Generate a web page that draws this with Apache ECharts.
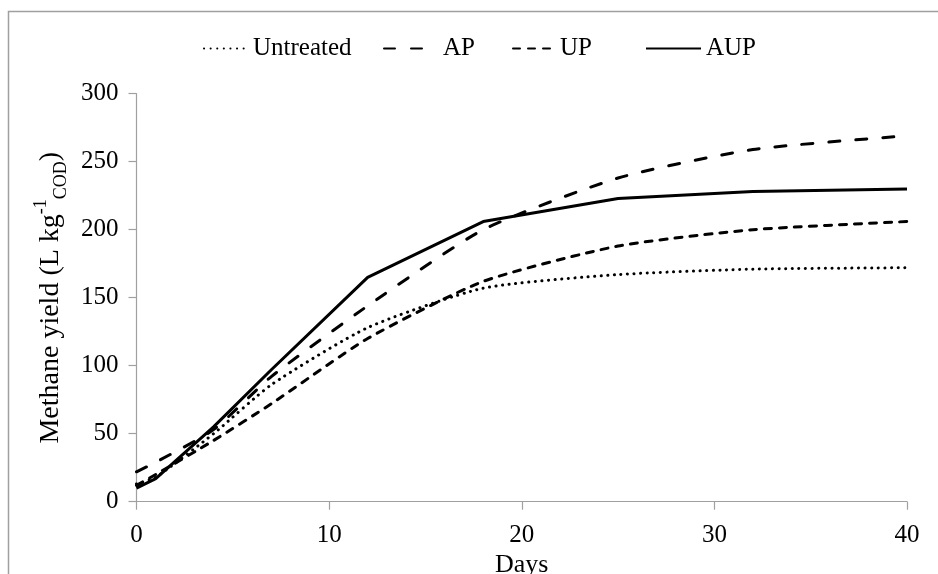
<!DOCTYPE html>
<html>
<head>
<meta charset="utf-8">
<script src="https://cdn.jsdelivr.net/npm/echarts@6/dist/echarts.min.js"></script>
<style>
html,body{margin:0;padding:0;background:#fff;}
#chart{width:938px;height:574px;}
</style>
</head>
<body>
<div id="chart"></div>
<script>
var days = [0, 1, 4, 7, 12, 18, 25, 32, 40];
var untreated = [13, 18, 50, 86, 128, 157, 167, 171, 172];
var ap = [22, 29, 53, 92, 144, 200, 238, 259, 269];
var up = [12, 20, 45, 72, 120, 162, 188, 200, 206];
var aup = [10, 17, 55, 97, 165, 206, 223, 228, 230];
var seriesNames = ['Untreated', 'AP', 'UP', 'AUP'];
var xTicks = [0, 10, 20, 30, 40];
var yTicks = [0, 50, 100, 150, 200, 250, 300];

function pairs(vals) {
  return days.map(function (d, i) { return [d, vals[i]]; });
}

var FONT = '"Liberation Serif", "Times New Roman", serif';
var chart = echarts.init(document.getElementById('chart'), null, {renderer: 'canvas'});

function lineSeries(name, vals, type, cap, smooth) {
  return {
    name: name,
    type: 'line',
    data: pairs(vals),
    symbol: 'none',
    smooth: smooth,
    lineStyle: {color: '#000', width: 3, type: type, cap: cap || 'butt'},
    itemStyle: {color: '#000'}
  };
}

var legendLefts = [203, 383, 512, 645];
var legendWidths = [44, 54, 42, 55];
var legends = seriesNames.map(function (n, i) {
  return {
    data: [n],
    top: 36,
    left: legendLefts[i],
    padding: 0,
    itemWidth: legendWidths[i],
    itemHeight: 14,
    itemGap: 0,
    itemStyle: {opacity: 0},
    textStyle: {fontFamily: FONT, fontSize: 25, color: '#000'}
  };
});

var option = {
  animation: false,
  backgroundColor: '#fff',
  graphic: [{
    type: 'rect',
    shape: {x: 8.5, y: 11.5, width: 960, height: 600},
    style: {fill: 'none', stroke: '#a0a0a0', lineWidth: 1.5},
    silent: true
  }],
  legend: legends,
  grid: {left: 136.5, right: 31, top: 93.7, bottom: 72.3, containLabel: false, outerBoundsMode: 'none'},
  xAxis: {
    type: 'value',
    min: 0, max: 40, interval: 10,
    name: 'Days',
    nameLocation: 'middle',
    nameGap: 44,
    nameTextStyle: {fontFamily: FONT, fontSize: 26, color: '#000'},
    axisLine: {lineStyle: {color: '#a0a0a0', width: 1.2}},
    axisTick: {show: true, length: 8, lineStyle: {color: '#a0a0a0', width: 1.2}},
    axisLabel: {fontFamily: FONT, fontSize: 25, color: '#000', margin: 21,
      formatter: function (v) { return xTicks.indexOf(v) >= 0 ? String(v) : ''; }},
    splitLine: {show: false}
  },
  yAxis: {
    type: 'value',
    min: 0, max: 300, interval: 50,
    name: 'Methane yield (L kg{sup|-1}{sub|COD})',
    nameLocation: 'middle',
    nameRotate: 90,
    nameGap: 63,
    nameTextStyle: {
      fontFamily: FONT, fontSize: 28, color: '#000', lineHeight: 38,
      rich: {
        sup: {fontFamily: FONT, fontSize: 18, color: '#000', lineHeight: 38, verticalAlign: 'top', padding: [0, 0, 14, 0]},
        sub: {fontFamily: FONT, fontSize: 18, color: '#000', lineHeight: 38, verticalAlign: 'bottom', padding: [10, 0, 0, 0]}
      }
    },
    axisLine: {show: true, lineStyle: {color: '#a0a0a0', width: 1.2}},
    axisTick: {show: true, length: 8, lineStyle: {color: '#a0a0a0', width: 1.2}},
    axisLabel: {fontFamily: FONT, fontSize: 25, color: '#000', margin: 18,
      formatter: function (v) { return yTicks.indexOf(v) >= 0 ? String(v) : ''; }},
    splitLine: {show: false}
  },
  series: [
    lineSeries('Untreated', untreated, [0.1, 6.5], 'round', 0.2),
    lineSeries('AP', ap, [11, 16], 'round', 0.2),
    lineSeries('UP', up, [7, 8], 'round', 0.2),
    lineSeries('AUP', aup, 'solid', 'butt', false)
  ]
};
chart.setOption(option);
</script>
</body>
</html>
